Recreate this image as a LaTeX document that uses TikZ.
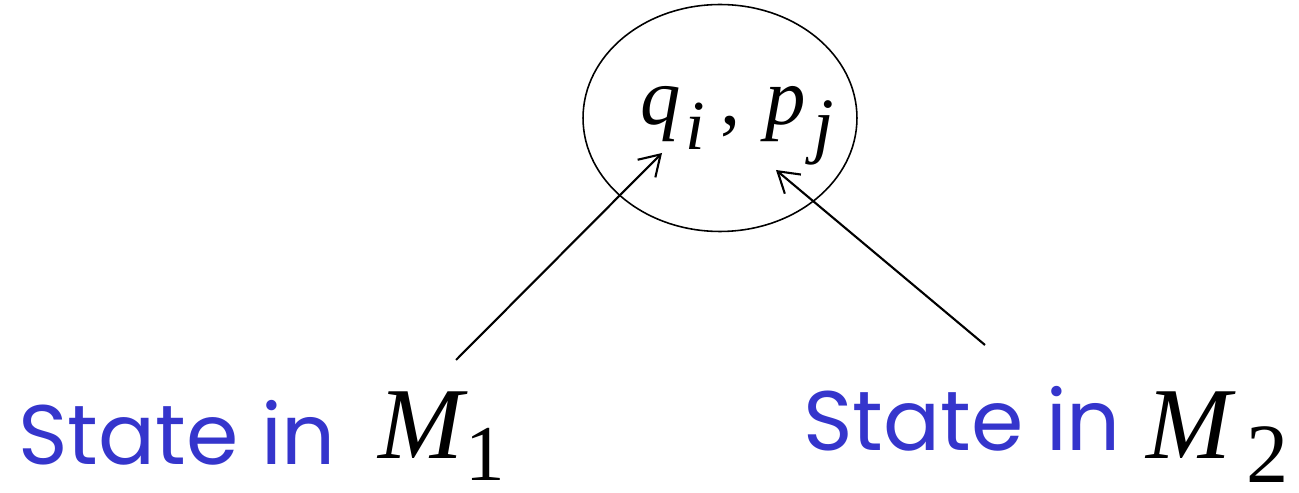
\documentclass[tikz,border=0pt]{standalone}
\usepackage{fontspec}
\usepackage{xcolor}
\usepackage{tikz}
\usetikzlibrary{shapes.geometric, arrows.meta}

\newfontfamily\labelfont{Poppins}
\newfontfamily\seriffont{Liberation Serif}
\definecolor{labelblue}{RGB}{53,53,204}

\begin{document}
\begin{tikzpicture}[
    x=0.02cm, y=-0.02cm,
    stateellipse/.style={ellipse, draw, line width=0.9pt, minimum width=5.48cm, minimum height=4.54cm, inner sep=0pt},
    bluelabel/.style={anchor=base west, inner sep=0pt, text=labelblue, font=\labelfont\fontsize{48}{52}\selectfont},
    mathlabel/.style={anchor=base west, inner sep=0pt, font=\seriffont\fontsize{58}{62}\selectfont},
    pointer/.style={line width=1.2pt, -{Straight Barb[length=4mm, width=5mm]}}
]
    \useasboundingbox (0,0) rectangle (1299,493);

    % --- 1. Product state ---
    \node[stateellipse] (state) at (720,118) {};
    \node[anchor=base west, inner sep=0pt, font=\seriffont\fontsize{46}{50}\selectfont] (pair) at (640,125)
        {\itshape q\hspace{0.1cm}\raisebox{-0.5cm}[0pt][0pt]{\fontsize{40}{44}\selectfont i}\hspace{0.3cm}\upshape,\hspace{0.5cm}\itshape p\hspace{0.15cm}\raisebox{-0.5cm}[0pt][0pt]{\fontsize{42}{46}\selectfont j}};

    % --- 2. Labels ---
    \node[bluelabel] (stext1) at (18,464) {State in};
    \node[mathlabel] (m1) at (378,459) {\itshape M\hspace{0.05cm}\raisebox{-0.44cm}[0pt][0pt]{\upshape\fontsize{45}{48}\selectfont 1}};
    \node[bluelabel] (stext2) at (803,450) {State in};
    \node[mathlabel] (m2) at (1146,459) {\itshape M\hspace{0.3cm}\raisebox{-0.48cm}[0pt][0pt]{\upshape\fontsize{48}{52}\selectfont 2}};

    % --- 3. Arrows ---
    \coordinate (from1) at (456,360);
    \coordinate (to1) at (662,153);
    \coordinate (from2) at (985,345);
    \coordinate (to2) at (776,170);
    \draw[pointer] (from1) -- (to1);
    \draw[pointer] (from2) -- (to2);

\end{tikzpicture}
\end{document}
